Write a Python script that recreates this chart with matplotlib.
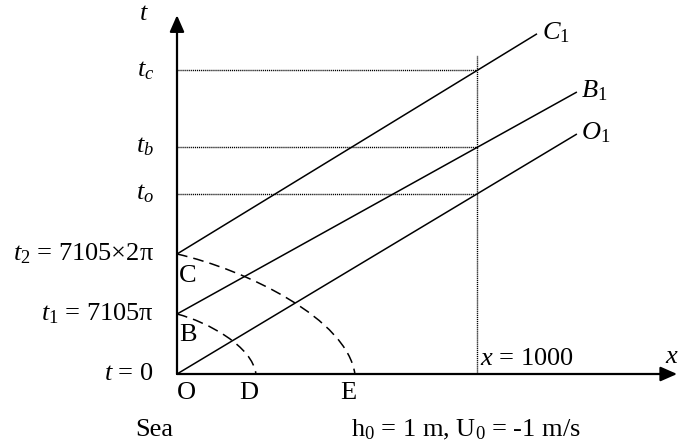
import matplotlib
matplotlib.use("Agg")
import matplotlib.pyplot as plt
from matplotlib.path import Path
from matplotlib.patches import PathPatch

plt.rcParams['font.family'] = ['Liberation Serif', 'DejaVu Serif']
plt.rcParams['mathtext.fontset'] = 'custom'
plt.rcParams['mathtext.rm'] = 'Liberation Serif'
plt.rcParams['mathtext.it'] = 'Liberation Serif:italic'
plt.rcParams['mathtext.bf'] = 'Liberation Serif:bold'

# ---- data (x in m, t in units of 7105*pi) ----
x_mark = 1000
t_start = [0.0, 1.0, 2.0]            # O, B, C on the t axis
line_names = ['$O_1$', '$B_1$', '$C_1$']
line_x_end = [1333, 1333, 1200]
line_t_end = [4.00, 4.70, 5.67]
t_cross = [3.00, 3.78, 5.06]         # t_o, t_b, t_c at x = 1000
t_cross_labels = ['$t_o$', '$t_b$', '$t_c$']
t_axis_labels = ['$t$ = 0', '$t_1$ = 7105π', '$t_2$ = 7105×2π']
# dashed characteristic curves (cubic Bezier control points, x, t)
curve_BD_x = [0, 103, 252, 263]
curve_BD_t = [1.0, 0.867, 0.458, 0.0]
curve_CE_x = [0, 233, 567, 593]
curve_CE_t = [2.0, 1.733, 0.917, 0.0]
x_axis_end = 1667
t_axis_end = 5.98
t_vert_top = 5.32

FS = 19
fig = plt.figure(figsize=(6.79, 4.48), dpi=100)
ax = fig.add_axes([0, 0, 1, 1])
ax.set_xlim(-590, 1673.3)
ax.set_ylim(-1.2333, 6.2333)
ax.axis('off')

# axes with arrows
arrow = dict(arrowstyle='-|>,head_length=0.5,head_width=0.22', mutation_scale=20,
             lw=1.6, color='black', shrinkA=0, shrinkB=0)
ax.annotate('', xy=(x_axis_end, 0), xytext=(0, 0), arrowprops=arrow)
ax.annotate('', xy=(0, t_axis_end), xytext=(0, 0), arrowprops=arrow)

# dotted guide lines
dot = dict(color='black', lw=1.0, linestyle=(0, (0.8, 0.6)))
ax.plot([x_mark, x_mark], [0, t_vert_top], **dot)
for tc in t_cross:
    ax.plot([0, x_mark], [tc, tc], **dot)

# characteristic lines
for ts, xe, te, nm in zip(t_start, line_x_end, line_t_end, line_names):
    ax.plot([0, xe], [ts, te], color='black', lw=1.1, solid_capstyle='butt')
    ax.text(xe + 15, te + 0.02, nm, fontsize=FS, ha='left', va='center')

# dashed curves
codes = [Path.MOVETO, Path.CURVE4, Path.CURVE4, Path.CURVE4]
for cx, ct in [(curve_BD_x, curve_BD_t), (curve_CE_x, curve_CE_t)]:
    p = Path(list(zip(cx, ct)), codes)
    ax.add_patch(PathPatch(p, fill=False, lw=1.1, edgecolor='black',
                           linestyle=(0, (7, 4))))

# t-axis labels
for tv, lb in zip([0.0, 1.0, 2.0], t_axis_labels):
    ax.text(-77, tv, lb, fontsize=FS, ha='right', va='center')
for tv, lb in zip(t_cross, t_cross_labels):
    ax.text(-77, tv, lb, fontsize=FS, ha='right', va='center')
ax.text(-110, 6.0, '$t$', fontsize=FS, ha='center', va='center')

# point labels
ax.text(37, 1.63, 'C', fontsize=FS, ha='center', va='center')
ax.text(37, 0.65, 'B', fontsize=FS, ha='center', va='center')
ax.text(33, -0.32, 'O', fontsize=FS, ha='center', va='center')
ax.text(240, -0.32, 'D', fontsize=FS, ha='center', va='center')
ax.text(570, -0.32, 'E', fontsize=FS, ha='center', va='center')
ax.text(x_mark + 10, 0.25, '$x$ = 1000', fontsize=FS, ha='left', va='center')
ax.text(1672, 0.28, '$x$', fontsize=FS, ha='right', va='center')

ax.text(-77, -0.93, 'Sea', fontsize=FS, ha='center', va='center')
ax.text(963, -0.93, 'h$_0$ = 1 m, U$_0$ = -1 m/s', fontsize=FS, ha='center', va='center')

fig.savefig('out.png', dpi=100)
